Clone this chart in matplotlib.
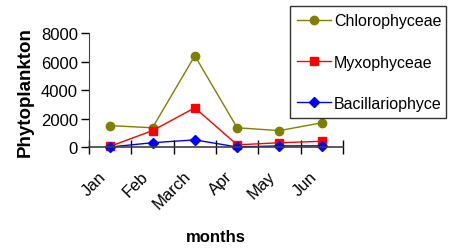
import matplotlib
matplotlib.use("Agg")
import matplotlib.pyplot as plt
import matplotlib.transforms as mtransforms
import numpy as np

months = ["Jan", "Feb", "March", "Apr", "May", "Jun"]
chlorophyceae = [1500, 1350, 6400, 1350, 1150, 1700]
myxophyceae = [50, 1150, 2750, 150, 300, 400]
bacillariophyce = [0, 300, 500, 0, 80, 80]
yticks = [0, 2000, 4000, 6000, 8000]

plt.rcParams['font.family'] = ['Liberation Sans', 'DejaVu Sans']
W, H = 459, 251
fig = plt.figure(figsize=(W/100, H/100), dpi=100)
ax = fig.add_axes([89/W, 1-148/H, (343-89)/W, (148-34)/H])

x = np.arange(len(months)) + 0.5
ax.plot(x, chlorophyceae, color='#808000', marker='o', markersize=6, lw=1, label='Chlorophyceae', clip_on=False)
ax.plot(x, myxophyceae, color='#FF0000', marker='s', markersize=6, lw=1, label='Myxophyceae', clip_on=False)
ax.plot(x, bacillariophyce, color='#0000FF', marker='D', markersize=5, lw=1, label='Bacillariophyce', clip_on=False)

fs = 12
ax.set_xlim(0, len(months))
ax.set_ylim(0, 8000)
ax.set_yticks(yticks)
ax.set_yticklabels([str(v) for v in yticks], fontsize=fs)
ax.set_xticks(np.arange(len(months)+1))
ax.set_xticklabels([])
ax.set_xticks(x, minor=True)
ax.set_xticklabels(months, minor=True, rotation=45, ha='right', va='center',
                   rotation_mode='anchor', fontsize=fs)
ax.tick_params(axis='x', which='major', direction='inout', length=10, width=1, color='black')
ax.tick_params(axis='x', which='minor', length=0, pad=19)
ax.tick_params(axis='y', direction='out', length=6, width=1, color='black', pad=2)
offset = mtransforms.ScaledTranslation(-7/100, 0, fig.dpi_scale_trans)
for lab in ax.get_xticklabels(minor=True):
    lab.set_transform(lab.get_transform() + offset)
for s in ['top', 'right']:
    ax.spines[s].set_visible(False)
ax.spines['left'].set_color('#404040')
ax.spines['bottom'].set_color('#404040')
ax.spines['bottom'].set_linewidth(1.2)

fig.text(216/W, 1-238/H, 'months', ha='center', va='center', fontsize=fs, fontweight='bold')
fig.text(25/W, 1-92/H, 'Phytoplankton', ha='center', va='center', rotation=90, fontsize=13.5, fontweight='bold')

leg = fig.legend(loc='upper left', bbox_to_anchor=(290/W, 1-118/H, (446-290)/W, (118-7)/H),
                 mode='expand', fontsize=11.5, frameon=True, fancybox=False, edgecolor='black',
                 labelspacing=1.65, handlelength=2.1, handletextpad=0.2, borderaxespad=0, borderpad=0.45)
leg.get_frame().set_linewidth(1)

fig.savefig('out.png', dpi=100)
